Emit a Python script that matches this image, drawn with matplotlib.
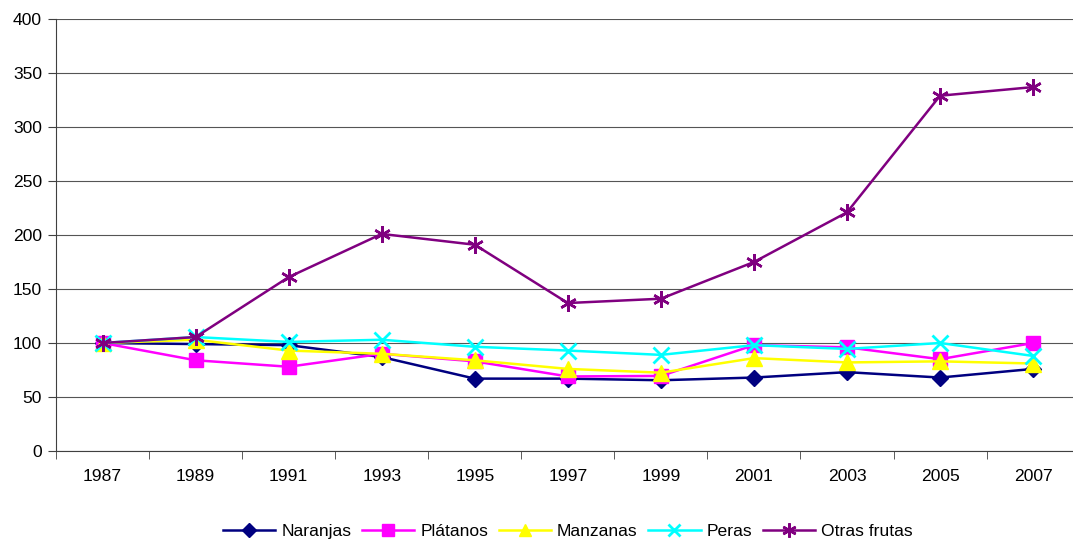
import matplotlib.pyplot as plt
import numpy as np

plt.rcParams['font.family'] = ['Liberation Sans', 'DejaVu Sans']

# years and index values (1987 = 100)
years = ['1987', '1989', '1991', '1993', '1995', '1997', '1999', '2001', '2003', '2005', '2007']
naranjas = [100, 99, 98, 87, 67, 67, 65.5, 68, 73, 68, 76]
platanos = [100, 84, 78, 90, 83, 69, 69.5, 98, 96, 85, 100]
manzanas = [100, 103, 93, 90, 84, 76, 72.5, 86, 82, 83, 81]
peras = [100, 105.5, 101, 103, 96.5, 93, 89, 98, 94.5, 100, 88]
otras = [100, 105.5, 161, 201, 191, 137, 141, 175, 221, 329, 337]

fig = plt.figure(figsize=(10.73, 5.44), dpi=100)
ax = fig.add_axes([0.0522, 0.171, 0.954, 0.794])

x = np.arange(len(years))
ax.plot(x, naranjas, color='#000080', lw=1.8, marker='D', ms=8, label='Naranjas')
ax.plot(x, platanos, color='#FF00FF', lw=1.8, marker='s', ms=10, label='Plátanos')
ax.plot(x, manzanas, color='#FFFF00', lw=1.8, marker='^', ms=11, label='Manzanas')
ax.plot(x, peras, color='#00FFFF', lw=1.8, marker='x', ms=11, mew=2, label='Peras')
ax.plot(x, otras, color='#800080', lw=1.8, marker=(6, 2, 0), ms=12, mew=1.8, label='Otras frutas')

ax.set_xlim(-0.5, 10.5)
ax.set_ylim(0, 400)
ax.set_yticks(range(0, 401, 50))
ax.set_xticks(x)
ax.set_xticklabels(years)
ax.set_xticks(np.arange(-0.5, 10.6, 1), minor=True)
ax.tick_params(axis='x', which='major', length=0, pad=13, labelsize=12.6)
ax.tick_params(axis='x', which='minor', length=6, color='#404040')
ax.tick_params(axis='y', length=6, color='#404040', labelsize=12.6, pad=4)

ax.grid(axis='y', color='#555555', lw=0.8)
ax.set_axisbelow(True)
ax.spines['top'].set_visible(False)
ax.spines['right'].set_visible(False)
ax.spines['left'].set_color('#404040')
ax.spines['bottom'].set_color('#404040')

ax.legend(loc='center', bbox_to_anchor=(0.5, -0.186), ncol=5, frameon=False,
          fontsize=12.6, handlelength=3.0, columnspacing=0.6, handletextpad=0.34,
          markerscale=0.85)

plt.savefig('out.png')
